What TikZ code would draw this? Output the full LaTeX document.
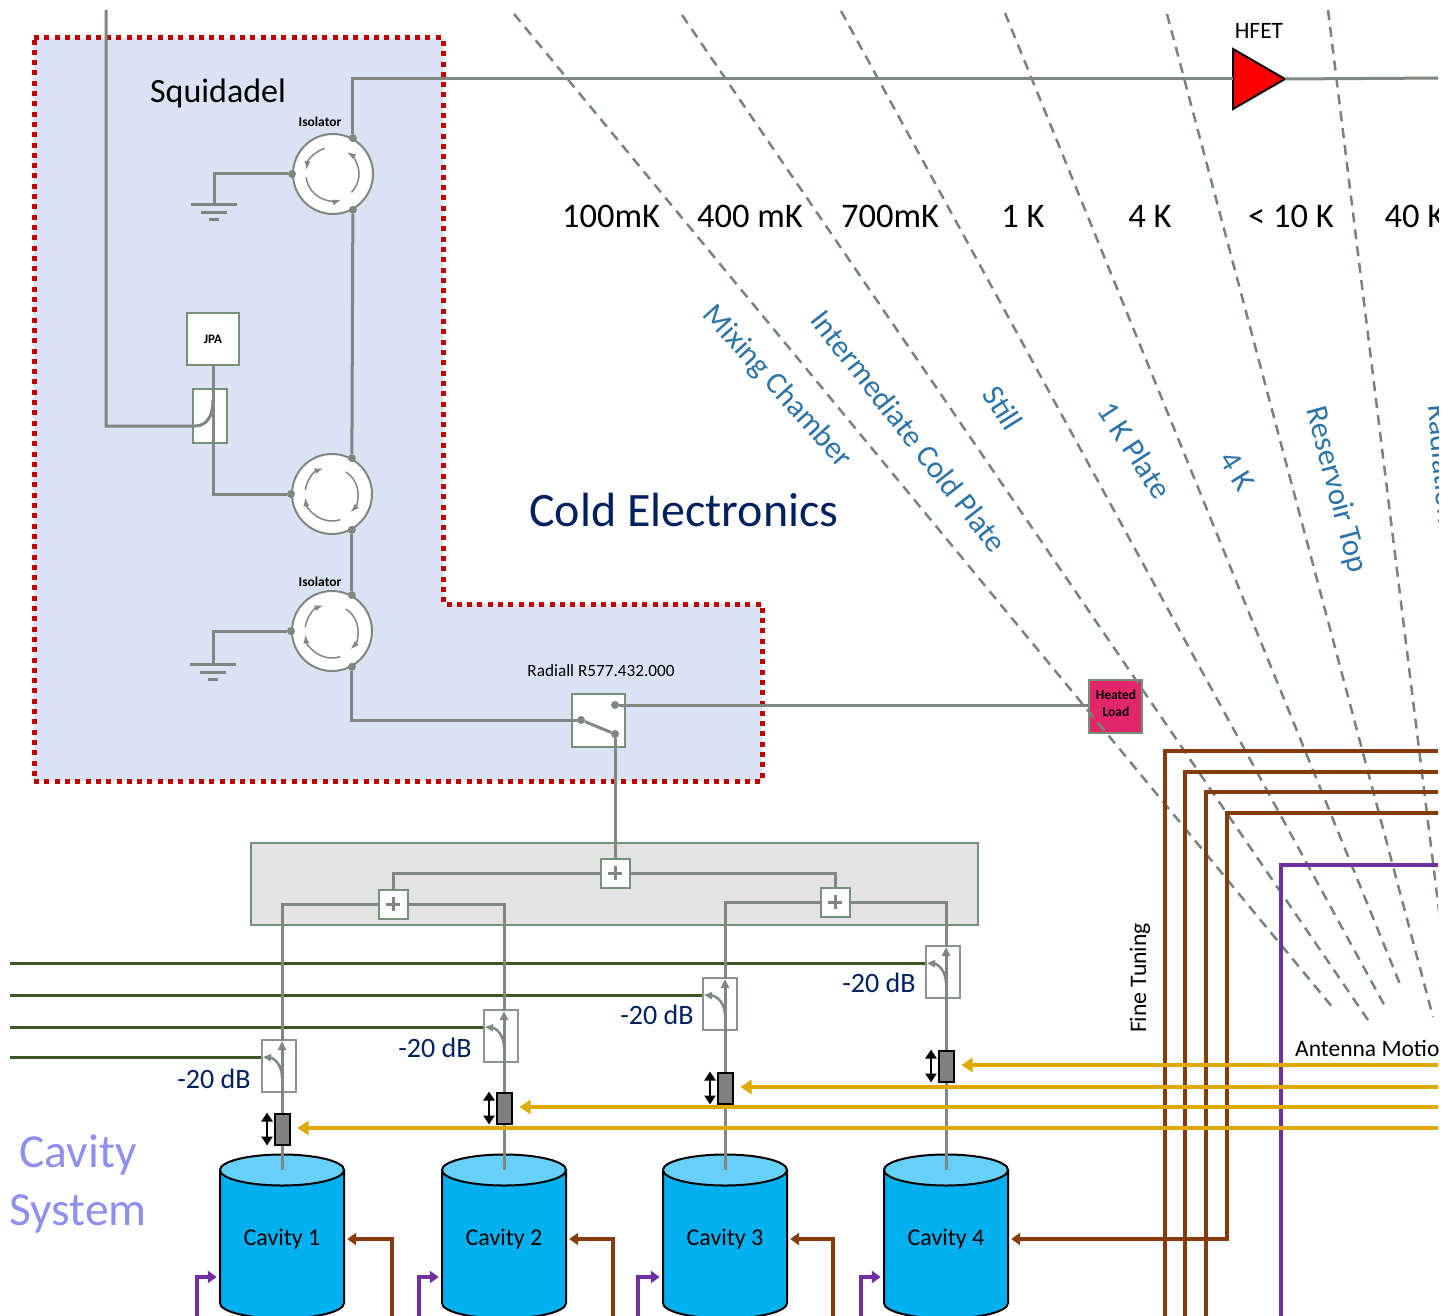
\documentclass[tikz,border=0pt]{standalone}
\usepackage{fontspec}
\setmainfont{Carlito}
\usetikzlibrary{arrows.meta,shapes.geometric}
\definecolor{wiregray}{HTML}{7F8780}
\definecolor{paleblue}{HTML}{D9E3F3}
\definecolor{dotred}{HTML}{C00000}
\definecolor{boxgreen}{HTML}{76907A}
\definecolor{stagegray}{HTML}{76847A}
\definecolor{brownline}{HTML}{843C0C}
\definecolor{purpleline}{HTML}{7030A0}
\definecolor{goldline}{HTML}{DFAA00}
\definecolor{tapgreen}{HTML}{385723}
\definecolor{platetext}{HTML}{2C74A8}
\definecolor{navytext}{HTML}{002060}
\definecolor{lilactext}{HTML}{8F8FF0}
\definecolor{cavblue}{HTML}{00B0F0}
\definecolor{cavtop}{HTML}{66D0F8}
\definecolor{loadpink}{HTML}{E2266A}
\newcommand\fsz[1]{\fontsize{#1}{#1}\selectfont}
\tikzset{
	wire/.style={draw=wiregray,line width=3pt},
	port/.style={circle,fill=wiregray,inner sep=0pt,minimum size=8pt},
	isolator/.style={circle,draw=wiregray,line width=2pt,fill=white,inner sep=0pt,minimum size=80pt},
	isoarc/.style={draw=wiregray,line width=1.5pt,>={Latex[length=9pt,width=6pt]}},
	whitebox/.style={draw=boxgreen,line width=2pt,fill=white,inner sep=0pt},
	plusbox/.style={whitebox,minimum size=29pt,path picture={
		\draw[wire] ([xshift=-7pt]path picture bounding box.center)--([xshift=7pt]path picture bounding box.center);
		\draw[wire] ([yshift=-7pt]path picture bounding box.center)--([yshift=7pt]path picture bounding box.center);}},
	tapbox/.style={draw=wiregray!90,line width=2pt,fill=white,inner sep=0pt,minimum width=34pt,minimum height=52pt},
	plate/.style={draw=stagegray,line width=2.5pt,dash pattern=on 10pt off 7pt},
	platelabel/.style={text=platetext,inner sep=0pt,font=\fsz{31}},
	temp/.style={inner sep=0pt},
	brownrun/.style={draw=brownline,line width=4pt},
	purplerun/.style={draw=purpleline,line width=4pt},
	goldrun/.style={draw=goldline,line width=4pt,-{Triangle[length=11pt,width=14pt]}},
	taprun/.style={draw=tapgreen,line width=3pt},
	actuator/.style={draw=black,line width=2pt,fill=gray,inner sep=0pt,minimum width=15pt,minimum height=31pt},
}
\newcommand\isoarcs[2]{\foreach \a/\b/\r in {108/172/27,-45/58/26,-173/-72/27}
	\draw[isoarc,#2] ([shift={(\a:\r pt)}]#1.center) arc[start angle=\a,end angle=\b,radius=\r pt];}
\newcommand\groundbars[1]{
	\draw[wire] ([xshift=-23pt]#1.center)--([xshift=23pt]#1.center);
	\draw[wire] ([xshift=-13pt,yshift=-8pt]#1.center)--([xshift=13pt,yshift=-8pt]#1.center);
	\draw[wire] ([xshift=-5pt,yshift=-15pt]#1.center)--([xshift=5pt,yshift=-15pt]#1.center);}

\begin{document}
\begin{tikzpicture}[x=1pt,y=-1pt]
	\useasboundingbox (0,0) rectangle (1443,1316);
	\begin{scope}
	\clip (0,0) rectangle (1438,1316);

	%REGIONS
	\fill[paleblue] (34,38)--(443,38)--(443,604)--(762,604)--(762,781)--(34,781)--cycle;
	\draw[dotred,line width=5pt,dash pattern=on 5pt off 5.3pt] (34,38)--(443,38)--(443,604)--(762,604)--(762,781)--(34,781)--cycle;
	\node[draw=boxgreen,line width=2pt,fill=black!11,inner sep=0pt,minimum width=727pt,minimum height=82pt] (combinerbox) at (614.5,884) {};

	%TEMPERATURE STAGES
	\node[draw=boxgreen,line width=2pt,fill=loadpink,inner sep=0pt,minimum size=53pt] (load) at (1115.5,706) {};
	\node[inner sep=0pt,font=\fsz{13.5}\bfseries] (loada) at (1116,695) {Heated};
	\node[inner sep=0pt,font=\fsz{13.5}\bfseries] (loadb) at (1116,712) {Load};
	\foreach \xa/\ya/\xb/\yb in {514/14/1333/1008,682/15/1368/1020,841/11/1387/1010,1005/13/1402/989,1167/14/1433/1017,1328/10/1445/960}
		\draw[plate] (\xa,\ya)--(\xb,\yb);
	\foreach \n/\tx/\t in {a/611/100mK,b/750/400 mK,c/890/700mK,d/1023/1 K,e/1150/4 K,f/1291/< 10 K,g/1415/40 K}
		\node[temp,font=\fsz{34.5}] (temp\n) at (\tx,216) {\t};
	\node[platelabel,rotate=-48] (mixing) at (777,387) {Mixing Chamber};
	\node[platelabel,rotate=-52] (coldplate) at (909,431) {Intermediate Cold Plate};
	\node[platelabel,rotate=-58] (still) at (1003,408) {Still};
	\node[platelabel,rotate=-57] (onekplate) at (1135,450) {1 K Plate};
	\node[platelabel,rotate=-58] (fourk) at (1237,471) {4 K};
	\node[platelabel,rotate=-75] (reservoir) at (1336,490) {Reservoir Top};
	\node[platelabel,rotate=-85,anchor=base west] (radiation) at (1428,405) {Radiation};

	%SQUID AMPLIFIER CHAIN
	\node[font=\fsz{34},inner sep=0pt] (squid) at (218,93) {Squidadel};
	\node[font=\fsz{48},text=navytext,inner sep=0pt] (coldel) at (684,510) {Cold Electronics};
	\node[isolator] (isoa) at (333,174) {};
	\node[isolator] (isob) at (332,494) {};
	\node[isolator] (isoc) at (332,631) {};
	\node[font=\fsz{13.5}\bfseries,inner sep=0pt] (isoalabel) at (320,122) {Isolator};
	\node[font=\fsz{13.5}\bfseries,inner sep=0pt] (isoclabel) at (320,582) {Isolator};
	\isoarcs{isoa}{->}
	\isoarcs{isob}{<-}
	\isoarcs{isoc}{<-}
	\foreach \c in {a,b,c}{
		\node[port] (\c up) at (iso\c.61) {};
		\node[port] (\c down) at (iso\c.-61) {};
		\node[port] (\c left) at (iso\c.180) {};
	}
	\node[whitebox,minimum size=52pt,font=\fsz{13}\bfseries] (jpa) at (213,339) {JPA};
	\node[whitebox,minimum width=34pt,minimum height=54pt] (jpatap) at (210,416) {};
	\node[whitebox,minimum size=53pt] (switch) at (598.5,720) {};
	\node[font=\fsz{17.2},inner sep=0pt] (radiall) at (601,671) {Radiall R577.432.000};
	\node[port] (swup) at (615,705) {};
	\node[port] (swin) at (581,720) {};
	\node[port] (swdown) at (615,734) {};
	\node[isosceles triangle,isosceles triangle apex angle=60,isosceles triangle stretches,draw=black,line width=2pt,fill=red,inner sep=0pt,outer sep=0pt,minimum height=52pt,minimum width=60pt,anchor=lower side] (hfet) at (1233,79) {};
	\node[font=\fsz{23.5},inner sep=0pt] (hfetlabel) at (1259,31) {HFET};
	\coordinate (groundtopa) at (214,205);
	\coordinate (groundtopc) at (213,664);
	\coordinate (pumpin) at (106,10);
	\coordinate (pumpcorner) at (106,426);
	\coordinate (hfetout) at (1445,78);
	\draw[wire] (aup) |- (hfet.lower side);
	\draw[wire] (hfet.apex)--(hfetout);
	\draw[wire] (adown)--(bup);
	\draw[wire] (bdown)--(cup);
	\draw[wire] (cdown) |- (swin);
	\draw[wire] (aleft) -| (groundtopa);
	\draw[wire] (cleft) -| (groundtopc);
	\groundbars{groundtopa}
	\groundbars{groundtopc}
	\draw[wire] (jpa.south) |- (bleft);
	\draw[wire] (pumpin)--(pumpcorner)--(195,426) .. controls (207,426) and (213,416) .. (213,400);
	\draw[wire] (swin)--(swdown);
	\draw[wire] (swup)--(load.west |- swup);

	%COMBINERS
	\node[plusbox] (plusa) at (615,873) {};
	\node[plusbox] (plusb) at (393,904) {};
	\node[plusbox] (plusc) at (835,902) {};
	\draw[wire] (swdown)--(plusa.north);
	\draw[wire] (plusa.west) -| (plusb.north);
	\draw[wire] (plusa.east) -| (plusc.north);

	%CAVITY CHANNELS
	\foreach \i/\cx/\cl/\ct/\ay/\bx/\px in {1/282/262/1040/1129/392/197,2/504/484/1010/1108/613/419,3/725/703/978/1088/833/638,4/946/926/946/1066/1227/861}{
		\draw[black,line width=2pt,fill=cavblue] (\cx-62,1170)--(\cx-62,1303) arc[start angle=180,end angle=360,x radius=62pt,y radius=15.5pt]--(\cx+62,1170)--cycle;
		\node[ellipse,draw=black,line width=2pt,fill=cavtop,inner sep=0pt,minimum width=124pt,minimum height=31pt] (cavtop\i) at (\cx,1170) {};
		\node[inner sep=0pt,minimum width=130pt,font=\fsz{24}] (cav\i) at (\cx,1239) {\raisebox{-9pt}{Cavity \i}};
		\node[tapbox] (tap\i) at (\cl+17,\ct+26) {};
		\node[actuator] (act\i) at (\cx,\ay) {};
		\coordinate (tip\i) at (\cx,\ct+1);
		\coordinate (line\i) at (10,\ct+17);
		\coordinate (gold\i) at (1445,\ay-1);
		\coordinate (finebot\i) at (\bx,1320);
		\coordinate (purplebot\i) at (\px,1320);
		\coordinate (purpletop\i) at (\px,1277);
		\draw[wire,-{Triangle[length=9pt,width=8pt]}] (act\i.north)--(tip\i);
		\draw[wire] (act\i.south)--(cavtop\i.center);
		\draw[taprun] (line\i)--(tap\i.west |- line\i);
		\draw[wire,line width=2.5pt,-{Triangle[length=8pt,width=7pt]}] (\cx,\ct+37) .. controls (\cx,\ct+25) and (\cx-8,\ct+18) .. (\cl+1,\ct+17);
		\draw[black,line width=2.5pt,{Triangle[length=9pt,width=11pt]}-{Triangle[length=9pt,width=11pt]}] ([xshift=-15pt]act\i.north)--([xshift=-15pt]act\i.south);
		\draw[purplerun,-{Triangle[length=9pt,width=12pt]}] (purplebot\i) |- (cav\i.west |- purpletop\i);
	}
	\draw[wire] (plusb.west) -| (tip1);
	\draw[wire] (plusb.east) -| (tip2);
	\draw[wire] (plusc.west) -| (tip3);
	\draw[wire] (plusc.east) -| (tip4);
	\foreach \i/\lx/\ly in {1/214/1079,2/435/1048,3/657/1015,4/879/983}
		\node[font=\fsz{28},text=navytext,inner sep=0pt] (atten\i) at (\lx,\ly) {-20 dB};
	\node[font=\fsz{47.5},text=lilactext,inner sep=0pt] (cavname) at (78,1155) {Cavity};
	\node[font=\fsz{47.5},text=lilactext,inner sep=0pt] (sysname) at (78,1214) {System};

	%FINE TUNING AND ANTENNA RUNS
	\foreach \i/\rx/\ry in {a/1165/751,b/1185/772,c/1206/792}{
		\coordinate (runend\i) at (1445,\ry);
		\coordinate (runbot\i) at (\rx,1320);
		\draw[brownrun] (runend\i) -| (runbot\i);
	}
	\coordinate (runendd) at (1445,813);
	\draw[brownrun,-{Triangle[length=9pt,width=12pt]}] (runendd) -| (1227,1239)--(cav4.east);
	\foreach \i in {1,2,3}
		\draw[brownrun,-{Triangle[length=9pt,width=12pt]}] (finebot\i) |- (cav\i.east);
	\coordinate (purpleend) at (1445,865);
	\coordinate (purplelow) at (1281,1320);
	\draw[purplerun] (purpleend) -| (purplelow);
	\foreach \i in {1,2,3,4}
		\draw[goldrun] (gold\i)--([xshift=7pt,yshift=1pt]act\i.east);
	\node[font=\fsz{23.7},rotate=90,inner sep=0pt] (finetuning) at (1140,978) {Fine Tuning};
	\node[font=\fsz{23.5},anchor=west,inner sep=0pt] (antenna) at (1295,1048) {Antenna Motion};
	\end{scope}
\end{tikzpicture}
\end{document}
